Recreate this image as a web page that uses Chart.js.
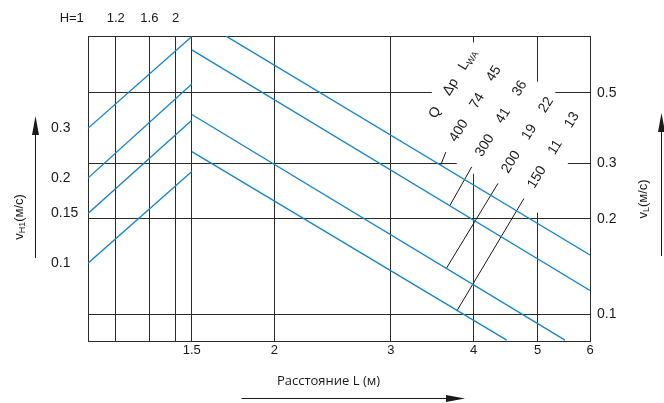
<!DOCTYPE html>
<html>
<head>
<meta charset="utf-8">
<script src="https://cdn.jsdelivr.net/npm/chart.js@4.4.1/dist/chart.umd.min.js"></script>
<style>
  html, body { margin: 0; padding: 0; background: #fff; }
</style>
</head>
<body>
<canvas id="chart" width="664" height="403"></canvas>
<script>
// distance L (m), bottom axis
const distanceTicks = [1.5, 2, 3, 4, 5, 6];
const distanceRange = [1.045, 6];
// H values on the top axis, placed on the L axis
const heightLabels = ['H=1', '1.2', '1.6', '2'];
const heightAt = [1.045, 1.151, 1.294, 1.418];
// vL (m/s), right axis
const velocityTicks = [0.1, 0.2, 0.3, 0.5];
const velocityRange = [0.0825, 0.7545];
// vH1 (m/s), left axis
const headTicks = [0.1, 0.15, 0.2, 0.3];
const headRange = [0.0531, 0.6357];

// rising lines in the H part: vH1 at the left edge and at L = 1.5
const splitL = 1.5;
const headStart = [0.3, 0.2, 0.15, 0.1];
const headEnd = [0.633, 0.43, 0.32, 0.211];

// falling lines (L, vL) at both ends
const flowStartL = [1.69, 1.5, 1.5, 1.5];
const flowStartV = [0.754, 0.682, 0.427, 0.326];
const flowEndL = [6, 6, 5.5, 4.49];
const flowEndV = [0.154, 0.119, 0.083, 0.083];

// leader ticks from the table to each line
const leaderTopL = [3.632, 3.975, 4.356, 4.767];
const leaderTopV = [0.325, 0.292, 0.259, 0.232];
const leaderFootL = [3.569, 3.686, 3.641, 3.773];
const leaderFootV = [0.296, 0.221, 0.140, 0.1025];

// table
const flowQ = ['400', '300', '200', '150'];
const flowDp = ['74', '41', '19', '11'];
const flowLwa = ['45', '36', '22', '13'];

const BLUE = '#1485c8';
const INK = '#1a1a1a';
const GRID = '#2a2a2a';
const FAMILY = '"Liberation Sans", Arial, sans-serif';
const TICK_FONT = { family: FAMILY, size: 13 };
const Y_TICK_FONT = { family: FAMILY, size: 14 };
const TEXT_ANGLE = -58.5 * Math.PI / 180;

const datasets = [];
headStart.forEach((v, i) => {
    datasets.push({
        data: [{ x: distanceRange[0], y: v }, { x: splitL, y: headEnd[i] }],
        yAxisID: 'yH', borderColor: BLUE, borderWidth: 1.3, pointRadius: 0,
    });
});
flowStartL.forEach((l, i) => {
    datasets.push({
        data: [{ x: l, y: flowStartV[i] }, { x: flowEndL[i], y: flowEndV[i] }],
        yAxisID: 'y', borderColor: BLUE, borderWidth: 1.3, pointRadius: 0,
    });
});
leaderTopL.forEach((l, i) => {
    datasets.push({
        data: [{ x: l, y: leaderTopV[i] }, { x: leaderFootL[i], y: leaderFootV[i] }],
        yAxisID: 'y', borderColor: INK, borderWidth: 1, pointRadius: 0,
    });
});

const fixedTicks = (values) => (scale) => { scale.ticks = values.map((v) => ({ value: v })); };

function rotatedText(ctx, x, y, parts) {
    // parts: [text, fontSize, dy]
    ctx.save();
    ctx.translate(x, y);
    ctx.rotate(TEXT_ANGLE);
    let w = 0;
    parts.forEach((p) => { ctx.font = p[1] + 'px ' + FAMILY; w += ctx.measureText(p[0]).width; });
    let cx = -w / 2;
    ctx.textAlign = 'left';
    ctx.textBaseline = 'middle';
    parts.forEach((p) => {
        ctx.font = p[1] + 'px ' + FAMILY;
        ctx.fillText(p[0], cx, p[2]);
        cx += ctx.measureText(p[0]).width;
    });
    ctx.restore();
}

function verticalTitle(ctx, x, y, main, sub, rest) {
    ctx.save();
    ctx.translate(x, y);
    ctx.rotate(-Math.PI / 2);
    ctx.fillStyle = INK;
    ctx.textBaseline = 'middle';
    ctx.textAlign = 'left';
    const big = '13px ' + FAMILY;
    const small = '9px ' + FAMILY;
    ctx.font = big; const w1 = ctx.measureText(main).width; const w3 = ctx.measureText(rest).width;
    ctx.font = small; const w2 = ctx.measureText(sub).width;
    let cx = -(w1 + w2 + w3) / 2;
    ctx.font = big; ctx.fillText(main, cx, 0); cx += w1;
    ctx.font = small; ctx.fillText(sub, cx, 4); cx += w2;
    ctx.font = big; ctx.fillText(rest, cx, 0);
    ctx.restore();
}

function arrow(ctx, x1, y1, x2, y2) {
    const a = Math.atan2(y2 - y1, x2 - x1);
    const len = 19, half = 3.5;
    ctx.save();
    ctx.strokeStyle = INK;
    ctx.fillStyle = INK;
    ctx.lineWidth = 1;
    ctx.beginPath();
    ctx.moveTo(x1, y1);
    ctx.lineTo(x2 - len * Math.cos(a), y2 - len * Math.sin(a));
    ctx.stroke();
    ctx.beginPath();
    ctx.moveTo(x2, y2);
    ctx.lineTo(x2 - len * Math.cos(a) + half * Math.sin(a), y2 - len * Math.sin(a) - half * Math.cos(a));
    ctx.lineTo(x2 - len * Math.cos(a) - half * Math.sin(a), y2 - len * Math.sin(a) + half * Math.cos(a));
    ctx.closePath();
    ctx.fill();
    ctx.restore();
}

function tableAnchors(chart) {
    const { x, y } = chart.scales;
    const rows = leaderTopL.map((l, i) => ({ x: x.getPixelForValue(l), y: y.getPixelForValue(leaderTopV[i]) }));
    const head = { x: 2 * rows[0].x - rows[1].x, y: 2 * rows[0].y - rows[1].y };
    return { head, rows };
}

const decor = {
    id: 'decor',
    beforeDatasetsDraw(chart) {
        // white patch behind the table, cutting the grid
        const { ctx, chartArea: a } = chart;
        const o = tableAnchors(chart).rows[0];
        const eu = [Math.cos(TEXT_ANGLE), Math.sin(TEXT_ANGLE)];
        const ed = [-eu[1], eu[0]];
        ctx.save();
        ctx.beginPath();
        ctx.rect(a.left + 1, a.top + 1, a.width - 2, a.height - 2);
        ctx.clip();
        ctx.beginPath();
        [[-4, -43], [108, -43], [108, 110], [-4, 110]].forEach(([u, d], i) => {
            const px = o.x + u * eu[0] + d * ed[0];
            const py = o.y + u * eu[1] + d * ed[1];
            if (i) ctx.lineTo(px, py); else ctx.moveTo(px, py);
        });
        ctx.closePath();
        ctx.fillStyle = '#fff';
        ctx.fill();
        ctx.restore();
    },
    afterDatasetsDraw(chart) {
        const { ctx } = chart;
        const { head, rows } = tableAnchors(chart);
        const eu = [Math.cos(TEXT_ANGLE), Math.sin(TEXT_ANGLE)];
        const at = (p, u) => [p.x + u * eu[0], p.y + u * eu[1]];
        ctx.save();
        ctx.fillStyle = INK;
        let p = at(head, 29); rotatedText(ctx, p[0], p[1], [['Q', 14, 0]]);
        p = at(head, 59); rotatedText(ctx, p[0], p[1], [['Δp', 14, 0]]);
        p = at(head, 91); rotatedText(ctx, p[0], p[1], [['L', 14, 0], ['WA', 9, 4]]);
        rows.forEach((r, i) => {
            p = at(r, 25); rotatedText(ctx, p[0], p[1], [[flowQ[i], 14, 0]]);
            p = at(r, 60); rotatedText(ctx, p[0], p[1], [[flowDp[i], 14, 0]]);
            p = at(r, 92); rotatedText(ctx, p[0], p[1], [[flowLwa[i], 14, 0]]);
        });
        ctx.restore();
    },
    afterDraw(chart) {
        const { ctx } = chart;
        verticalTitle(ctx, 19, 217, 'v', 'H1', '(м/с)');
        arrow(ctx, 35.5, 258, 35.5, 116);
        verticalTitle(ctx, 643, 199, 'v', 'L', '(м/с)');
        arrow(ctx, 661.5, 256, 661.5, 113);
        ctx.save();
        ctx.fillStyle = INK;
        ctx.font = '13px "Open Sans", "Noto Sans", sans-serif';
        ctx.textAlign = 'center';
        ctx.textBaseline = 'middle';
        ctx.fillText('Расстояние L (м)', 328.5, 381);
        ctx.restore();
        arrow(ctx, 241.5, 398.5, 465, 398.5);
    },
};

const gridOpts = { color: GRID, lineWidth: 1, drawTicks: false };
const borderOpts = { color: GRID, width: 1 };

new Chart(document.getElementById('chart'), {
    type: 'line',
    data: { datasets },
    options: {
        responsive: false,
        devicePixelRatio: 1,
        animation: false,
        layout: { padding: { left: 51, right: 34, top: 0, bottom: 37 } },
        plugins: { legend: { display: false }, tooltip: { enabled: false } },
        scales: {
            x: {
                type: 'logarithmic', position: 'bottom',
                min: distanceRange[0], max: distanceRange[1],
                afterBuildTicks: fixedTicks(distanceTicks),
                afterFit: (s) => { s.height = 25; },
                ticks: { callback: (v) => String(v), font: TICK_FONT, color: INK, padding: 2, maxRotation: 0, autoSkip: false },
                grid: gridOpts, border: borderOpts,
            },
            xTop: {
                type: 'logarithmic', position: 'top',
                min: distanceRange[0], max: distanceRange[1],
                afterBuildTicks: fixedTicks(heightAt),
                afterFit: (s) => { s.height = 36; },
                ticks: {
                    callback: (v, i) => (i === 0 ? heightLabels[i] + '\u00a0'.repeat(9) : heightLabels[i]),
                    font: TICK_FONT, color: INK, padding: 10, maxRotation: 0, autoSkip: false,
                },
                grid: gridOpts, border: borderOpts,
            },
            y: {
                type: 'logarithmic', position: 'right',
                min: velocityRange[0], max: velocityRange[1],
                afterBuildTicks: fixedTicks(velocityTicks),
                afterFit: (s) => { s.width = 40; },
                ticks: { callback: (v) => String(v), font: Y_TICK_FONT, color: INK, padding: 7, autoSkip: false },
                grid: gridOpts, border: borderOpts,
            },
            yH: {
                type: 'logarithmic', position: 'left',
                min: headRange[0], max: headRange[1],
                afterBuildTicks: fixedTicks(headTicks),
                afterFit: (s) => { s.width = 37; },
                ticks: { callback: (v) => String(v), font: Y_TICK_FONT, color: INK, crossAlign: 'far', autoSkip: false },
                grid: { display: false, drawTicks: false }, border: borderOpts,
            },
        },
    },
    plugins: [decor],
});
</script>
</body>
</html>
